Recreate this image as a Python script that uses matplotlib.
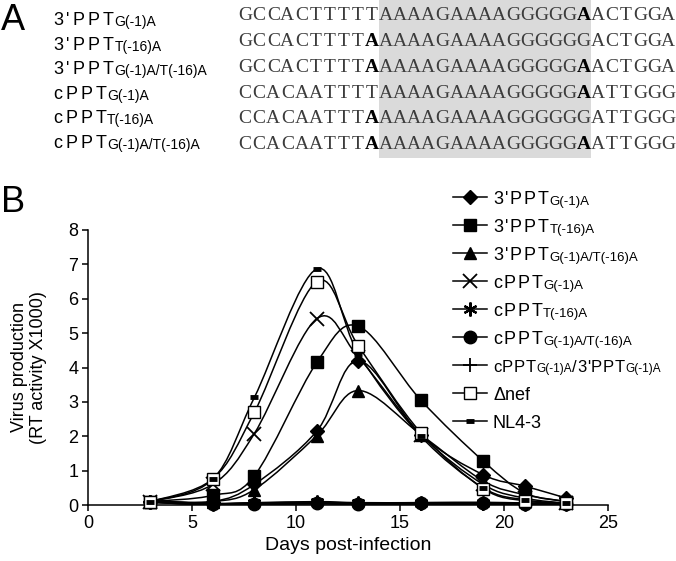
import numpy as np
import matplotlib
matplotlib.use("Agg")
import matplotlib.pyplot as plt
from matplotlib.path import Path
from matplotlib.patches import PathPatch, Rectangle

# ---- panel A: sequences ----
seq_rows = [
    "GCCACTTTTTAAAAGAAAAGGGGGAACTGGA",
    "GCCACTTTTAAAAAGAAAAGGGGGGACTGGA",
    "GCCACTTTTAAAAAGAAAAGGGGGAACTGGA",
    "CCACAATTTTAAAAGAAAAGGGGGAATTGGG",
    "CCACAATTTAAAAAGAAAAGGGGGGATTGGG",
    "CCACAATTTAAAAAGAAAAGGGGGAATTGGG",
]
bold_pos = [[24], [9], [9, 24], [24], [9], [9, 24]]
ppt_start, ppt_end = 10, 24   # shaded polypurine tract
row_labels = [
    [("3'PPT", 0), ("G(-1)A", 1)],
    [("3'PPT", 0), ("T(-16)A", 1)],
    [("3'PPT", 0), ("G(-1)A/T(-16)A", 1)],
    [("cPPT", 0), ("G(-1)A", 1)],
    [("cPPT", 0), ("T(-16)A", 1)],
    [("cPPT", 0), ("G(-1)A/T(-16)A", 1)],
]

# ---- panel B: virus production (RT activity x1000) ----
days = [3, 6, 8, 11, 13, 16, 19, 21, 23]
ppt3_g1a = [0.1, 0.1, 0.6, 2.15, 4.2, 2.05, 0.88, 0.55, 0.2]
ppt3_t16a = [0.1, 0.28, 0.85, 4.15, 5.2, 3.05, 1.28, 0.35, 0.1]
ppt3_g1a_t16a = [0.1, 0.1, 0.45, 2.02, 3.33, 2.05, 0.7, 0.3, 0.1]
cppt_g1a = [0.1, 0.6, 2.08, 5.42, 4.3, 2.05, 0.6, 0.2, 0.05]
cppt_t16a = [0.1, 0.03, 0.05, 0.08, 0.05, 0.05, 0.06, 0.04, 0.03]
cppt_g1a_t16a = [0.1, 0.02, 0.04, 0.06, 0.04, 0.05, 0.05, 0.03, 0.02]
cppt_3ppt = [0.1, 0.02, 0.03, 0.05, 0.03, 0.04, 0.04, 0.02, 0.02]
delta_nef = [0.1, 0.76, 2.7, 6.5, 4.63, 2.1, 0.48, 0.12, 0.05]
nl43 = [0.1, 0.75, 3.13, 6.87, 4.4, 2.0, 0.5, 0.15, 0.05]

series = [
    (ppt3_g1a, dict(marker="D", ms=7, mfc="black"), [("3'PPT", 0), ("G(-1)A", 1)]),
    (ppt3_t16a, dict(marker="s", ms=9, mfc="black"), [("3'PPT", 0), ("T(-16)A", 1)]),
    (ppt3_g1a_t16a, dict(marker="^", ms=9, mfc="black"), [("3'PPT", 0), ("G(-1)A/T(-16)A", 1)]),
    (cppt_g1a, dict(marker="x", ms=10, mew=1.3), [("cPPT", 0), ("G(-1)A", 1)]),
    (cppt_t16a, dict(marker=(6, 2, 0), ms=10, mew=1.6), [("cPPT", 0), ("T(-16)A", 1)]),
    (cppt_g1a_t16a, dict(marker="o", ms=9, mfc="black"), [("cPPT", 0), ("G(-1)A/T(-16)A", 1)]),
    (cppt_3ppt, dict(marker="+", ms=10, mew=1.3), [("cPPT", 0), ("G(-1)A", 1), ("/3'PPT", 0), ("G(-1)A", 1)]),
    (delta_nef, dict(marker="s", ms=9, mfc="white", mew=1.0), [("\u0394nef", 2)]),
    (nl43, dict(marker="_", ms=6, mew=3.5), [("NL4-3", 2)]),
]

W, H = 676, 561
SANS = ["Liberation Sans", "DejaVu Sans"]


def smooth_path(x, y):
    pts = np.column_stack([x, y]).astype(float)
    verts, codes = [pts[0]], [Path.MOVETO]
    n = len(pts)
    for i in range(n - 1):
        p0 = pts[i - 1] if i > 0 else pts[i]
        p1, p2 = pts[i], pts[i + 1]
        p3 = pts[i + 2] if i + 2 < n else pts[i + 1]
        verts += [p1 + (p2 - p0) / 6, p2 - (p3 - p1) / 6, p2]
        codes += [Path.CURVE4] * 3
    return Path(verts, codes)


def rich_label(ax, x, y, pieces, main=13, sub=10, track=2.0):
    prev = None
    for text, kind in pieces:
        if kind == 1:
            chunks, size, gap = [text], sub, 0.6
        elif kind == 2:
            chunks, size, gap = [text], main, track
        else:
            chunks, size, gap = list(text), main, track
        for ch in chunks:
            if prev is None:
                prev = ax.text(x, y, ch, fontsize=size, family=SANS, va="baseline", ha="left")
            else:
                prev = ax.annotate(ch, xy=(1, 0), xycoords=prev, xytext=(gap, 0),
                                   textcoords="offset points", fontsize=size, family=SANS,
                                   va="bottom", ha="left")


fig = plt.figure(figsize=(W / 100, H / 100), dpi=100)

ax = fig.add_axes([88 / W, 1 - 505 / H, 520 / W, 275 / H])
for vals, style, _ in series:
    flat = max(vals) < 0.5
    ax.add_patch(PathPatch(smooth_path(days, vals), fill=False, ec="black",
                           lw=2.0 if flat else 1.1, zorder=2))
    ax.plot(days, vals, ls="none", color="black", mec="black", clip_on=False, zorder=3, **style)

ax.set_xlim(0, 25)
ax.set_ylim(0, 8)
ax.set_xticks(range(0, 26, 5))
ax.set_yticks(range(0, 9))
for s in ["top", "right"]:
    ax.spines[s].set_visible(False)
for s in ["left", "bottom"]:
    ax.spines[s].set_linewidth(1.1)
ax.tick_params(direction="out", length=4, width=1.1, labelsize=13, pad=3)
for lab in ax.get_xticklabels() + ax.get_yticklabels():
    lab.set_family(SANS)
ax.set_xlabel("Days post-infection", fontsize=14, family=SANS, labelpad=4)
ax.set_ylabel("Virus production\n(RT activity X1000)", fontsize=13, family=SANS,
              linespacing=1.15)
ax.yaxis.set_label_coords(-0.079, 0.5)

# overlay in pixel coordinates for panel A, panel letters and legend
bg = fig.add_axes([0, 0, 1, 1], zorder=5)
bg.set_xlim(0, W)
bg.set_ylim(H, 0)
bg.axis("off")

x0, pitch = 238, 14.1
seq_base = [20, 46, 72, 97.5, 123, 149]
label_base = [25, 50, 74, 98.5, 123, 148]
bg.add_patch(Rectangle((x0 + ppt_start * pitch, 0), (ppt_end - ppt_start + 1) * pitch, 158,
                       color="#dadada", lw=0, zorder=0))
for r, seq in enumerate(seq_rows):
    for i, ch in enumerate(seq):
        bold = i in bold_pos[r]
        bg.text(x0 + (i + 0.5) * pitch, seq_base[r], ch, ha="center", va="baseline",
                fontsize=14, family="Liberation Serif",
                fontweight="bold" if bold else "normal",
                color="black" if bold else "#3c3c3c")
    rich_label(bg, 53, label_base[r], row_labels[r], track=2.2)

bg.text(1, 30, "A", fontsize=26, family=SANS, va="baseline")
bg.text(1, 212, "B", fontsize=26, family=SANS, va="baseline")

for k, (vals, style, pieces) in enumerate(series):
    yl = 197 + 28 * k
    bg.plot([453, 487], [yl, yl], color="black", lw=1.1)
    bg.plot([470], [yl], ls="none", color="black", mec="black", **style)
    if len(pieces) > 2:
        rich_label(bg, 493, yl + 6.5, pieces, main=12, sub=8.5, track=0.4)
    else:
        rich_label(bg, 493, yl + 6.5, pieces, main=13, sub=9.5, track=1.3)

fig.savefig("out.png", dpi=100)
